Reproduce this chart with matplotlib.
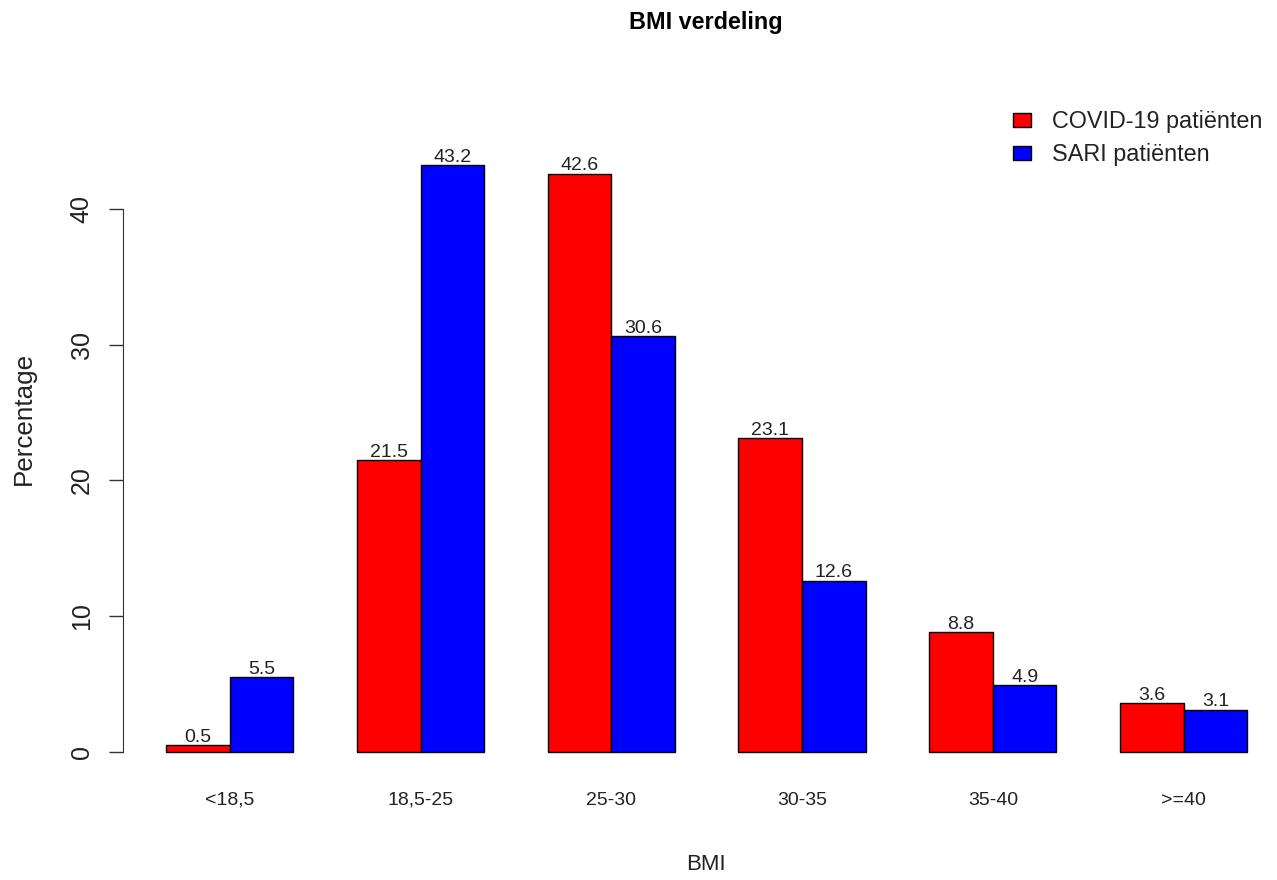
import numpy as np
import matplotlib
matplotlib.use("Agg")
import matplotlib.pyplot as plt

categories = ["<18,5", "18,5-25", "25-30", "30-35", "35-40", ">=40"]
covid = [0.5, 21.5, 42.6, 23.1, 8.8, 3.6]
sari = [5.5, 43.2, 30.6, 12.6, 4.9, 3.1]
series_names = ["COVID-19 patiënten", "SARI patiënten"]
colors = ["#ff0000", "#0000ff"]

plt.rcParams['font.family'] = ['Liberation Sans', 'DejaVu Sans']


def main():
    W, H = 1277, 880
    fig = plt.figure(figsize=(W / 100, H / 100), dpi=100)
    ax = fig.add_axes([123 / W, 101 / H, (W - 123) / W, 733 / H])

    # R-style barplot positions: space 1 before each group, bar width 1
    n = len(categories)
    left_red = 1 + 3 * np.arange(n)
    left_blue = left_red + 1
    centers = left_red + 1

    for lefts, vals, col in [(left_red, covid, colors[0]), (left_blue, sari, colors[1])]:
        bars = ax.bar(lefts, vals, width=1, align='edge', color=col,
                      edgecolor='black', linewidth=1)
        for b, v in zip(bars, vals):
            ax.annotate(f"{v:.1f}", (b.get_x() + b.get_width() / 2, v),
                        xytext=(0, 2.5), textcoords='offset points',
                        ha='center', va='baseline', fontsize=14, color='#222222')

    ax.set_xlim(0.32, 18.47)
    ax.set_ylim(-2, 52)

    for s in ['top', 'right', 'bottom']:
        ax.spines[s].set_visible(False)
    ax.spines['left'].set_bounds(0, 40)
    ax.spines['left'].set_color('#333333')

    ax.set_yticks([0, 10, 20, 30, 40])
    ax.tick_params(axis='y', length=10, width=1, color='#333333', pad=11,
                   labelsize=18, labelcolor='#222222')
    for lab in ax.get_yticklabels():
        lab.set_rotation(90)
        lab.set_va('center')

    ax.set_xticks(centers)
    ax.set_xticklabels(categories)
    ax.tick_params(axis='x', length=0, pad=9, labelsize=14, labelcolor='#222222')

    fig.text(706 / W, 1 - 22 / H, "BMI verdeling", ha='center', va='center',
             fontsize=16.8, fontweight='bold')
    fig.text(706 / W, 1 - 864 / H, "BMI", ha='center', va='center', fontsize=16,
             color='#222222')
    fig.text(24 / W, 1 - 418 / H, "Percentage", ha='center', va='center',
             rotation=90, fontsize=18.7, color='#222222')

    handles = [plt.Rectangle((0, 0), 1, 1, facecolor=c, edgecolor='black', linewidth=1)
               for c in colors]
    ax.legend(handles, series_names, loc='upper left',
              bbox_to_anchor=(1013 / W, 1 - 110 / H), bbox_transform=fig.transFigure,
              frameon=False, fontsize=16.8, handlelength=0.75, handleheight=0.57,
              handletextpad=0.9, labelspacing=0.44, borderpad=0, borderaxespad=0,
              labelcolor='#222222')

    fig.savefig('out.png', dpi=100)


if __name__ == "__main__":
    main()
